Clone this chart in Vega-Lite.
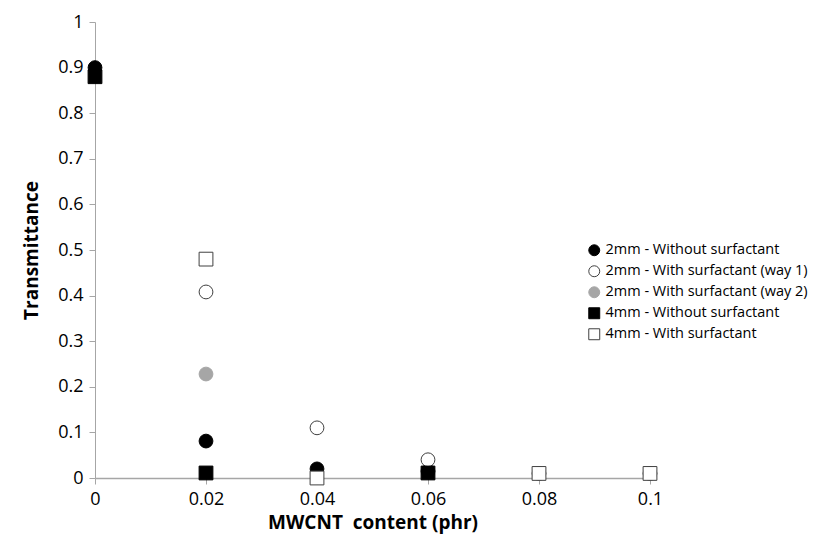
{
  "$schema": "https://vega.github.io/schema/vega-lite/v6.json",
  "width": 555,
  "height": 456,
  "autosize": {"type": "none"},
  "padding": {"left": 95, "top": 22, "right": 176, "bottom": 64},
  "background": "white",
  "config": {
    "view": {"stroke": null},
    "font": "Open Sans",
    "axis": {
      "grid": false,
      "domainColor": "#a6a6a6",
      "tickColor": "#a6a6a6",
      "tickSize": 6,
      "labelFont": "Open Sans",
      "labelFontSize": 18,
      "labelColor": "#000000",
      "titleFont": "Open Sans",
      "titleFontSize": 19,
      "titleFontWeight": "bold",
      "titleColor": "#000000"
    },
    "legend": {
      "labelLimit": 0
    }
  },
  "data": {
    "values": [
      {"series": "2mm - Without surfactant", "x": 0, "y": 0.9},
      {"series": "2mm - Without surfactant", "x": 0.02, "y": 0.081},
      {"series": "2mm - Without surfactant", "x": 0.04, "y": 0.02},
      {"series": "2mm - Without surfactant", "x": 0.06, "y": 0.015},
      {"series": "2mm - With surfactant (way 1)", "x": 0.02, "y": 0.408},
      {"series": "2mm - With surfactant (way 1)", "x": 0.04, "y": 0.11},
      {"series": "2mm - With surfactant (way 1)", "x": 0.06, "y": 0.04},
      {"series": "2mm - With surfactant (way 1)", "x": 0.08, "y": 0.01},
      {"series": "2mm - With surfactant (way 1)", "x": 0.1, "y": 0.01},
      {"series": "2mm - With surfactant (way 2)", "x": 0.02, "y": 0.228},
      {"series": "4mm - Without surfactant", "x": 0, "y": 0.88},
      {"series": "4mm - Without surfactant", "x": 0.02, "y": 0.011},
      {"series": "4mm - Without surfactant", "x": 0.06, "y": 0.011},
      {"series": "4mm - With surfactant", "x": 0.02, "y": 0.48},
      {"series": "4mm - With surfactant", "x": 0.04, "y": 0.0},
      {"series": "4mm - With surfactant", "x": 0.08, "y": 0.01},
      {"series": "4mm - With surfactant", "x": 0.1, "y": 0.01}
    ]
  },
  "mark": {"type": "point", "filled": true, "size": 190, "strokeWidth": 1, "opacity": 1},
  "encoding": {
    "x": {
      "field": "x",
      "type": "quantitative",
      "title": "MWCNT\u00a0 content (phr)",
      "scale": {"domain": [0, 0.1], "nice": false, "zero": false},
      "axis": {"values": [0, 0.02, 0.04, 0.06, 0.08, 0.1], "format": "~g", "labelPadding": 6, "titlePadding": 5, "labelFlush": false, "domainWidth": 1.5}
    },
    "y": {
      "field": "y",
      "type": "quantitative",
      "title": "Transmittance",
      "scale": {"domain": [0, 1], "nice": false},
      "axis": {"values": [0, 0.1, 0.2, 0.3, 0.4, 0.5, 0.6, 0.7, 0.8, 0.9, 1], "format": "~g", "labelPadding": 6, "titlePadding": 16, "labelFlush": false}
    },
    "shape": {
      "field": "series",
      "type": "nominal",
      "scale": {
        "domain": ["2mm - Without surfactant", "2mm - With surfactant (way 1)", "2mm - With surfactant (way 2)", "4mm - Without surfactant", "4mm - With surfactant"],
        "range": ["circle", "circle", "circle", "square", "square"]
      },
      "legend": {
        "title": null,
        "orient": "none",
        "legendX": 492,
        "legendY": 221,
        "symbolSize": 120,
        "labelFont": "Open Sans",
        "labelFontSize": 14.5,
        "labelColor": "#000000",
        "labelLimit": 0,
        "rowPadding": 5,
        "symbolStrokeWidth": 1
      }
    },
    "fill": {
      "field": "series",
      "type": "nominal",
      "scale": {
        "domain": ["2mm - Without surfactant", "2mm - With surfactant (way 1)", "2mm - With surfactant (way 2)", "4mm - Without surfactant", "4mm - With surfactant"],
        "range": ["#000000", "#ffffff", "#a6a6a6", "#000000", "#ffffff"]
      },
      "legend": {
        "title": null,
        "orient": "none",
        "legendX": 492,
        "legendY": 221,
        "symbolSize": 120,
        "labelFont": "Open Sans",
        "labelFontSize": 14.5,
        "labelColor": "#000000",
        "labelLimit": 0,
        "rowPadding": 5,
        "symbolStrokeWidth": 1
      }
    },
    "stroke": {
      "field": "series",
      "type": "nominal",
      "scale": {
        "domain": ["2mm - Without surfactant", "2mm - With surfactant (way 1)", "2mm - With surfactant (way 2)", "4mm - Without surfactant", "4mm - With surfactant"],
        "range": ["#000000", "#404040", "#a6a6a6", "#000000", "#404040"]
      },
      "legend": {
        "title": null,
        "orient": "none",
        "legendX": 492,
        "legendY": 221,
        "symbolSize": 120,
        "labelFont": "Open Sans",
        "labelFontSize": 14.5,
        "labelColor": "#000000",
        "labelLimit": 0,
        "rowPadding": 5,
        "symbolStrokeWidth": 1
      }
    }
  }
}
